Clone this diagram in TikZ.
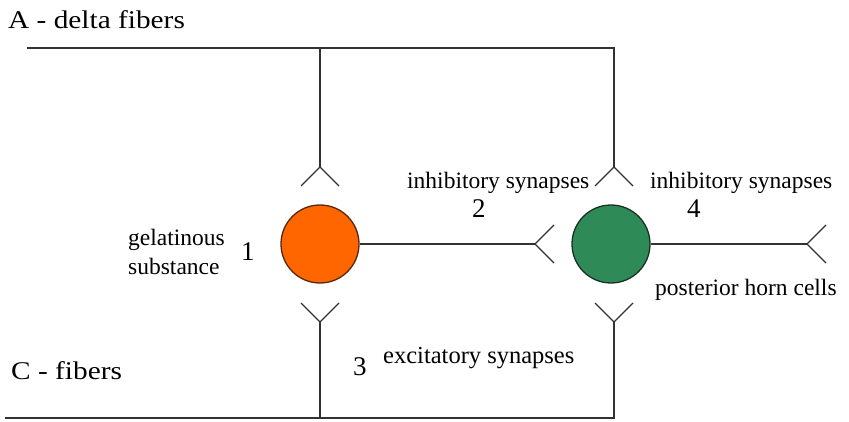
\documentclass[tikz,border=0pt]{standalone}
\usepackage{fontspec}
\setmainfont{Liberation Serif}
\newfontfamily\widefont[FakeStretch=1.15]{Liberation Serif}
\definecolor{wire}{RGB}{50,50,50}
\definecolor{gelfill}{RGB}{255,102,0}
\definecolor{geledge}{RGB}{90,40,10}
\definecolor{hornfill}{RGB}{46,139,87}
\definecolor{hornedge}{RGB}{25,50,35}
\tikzset{
  fiber/.style={draw=wire, line width=1.4pt},
  cellbody/.style={circle, minimum size=78pt, inner sep=0pt, line width=1.3pt},
  biglabel/.style={anchor=base west, inner sep=0pt, font=\widefont\fontsize{25.5}{30}\selectfont},
  smalllabel/.style={anchor=base west, inner sep=0pt, font=\fontsize{23.5}{29}\selectfont},
  numlabel/.style={anchor=base west, inner sep=0pt, font=\fontsize{27}{30}\selectfont},
}
\begin{document}
\begin{tikzpicture}[x=1pt, y=-1pt]
\useasboundingbox (0,0) rectangle (849,422);

% cell bodies
\node[cellbody, fill=gelfill, draw=geledge] (gel) at (320,244) {};
\node[cellbody, fill=hornfill, draw=hornedge] (horn) at (611,244) {};

% fiber corners and synapse tips
\coordinate (atl) at (27,48);
\coordinate (atm) at (320,48);
\coordinate (atr) at (614,48);
\coordinate (ctl) at (5,418);
\coordinate (ctm) at (320,418);
\coordinate (ctr) at (614,418);
\coordinate (s1) at (320,167);
\coordinate (s2) at (614,167);
\coordinate (s3) at (320,322);
\coordinate (s4) at (614,322);
\coordinate (s5) at (535,244);
\coordinate (s6) at (807,244);

% A-delta fibers
\draw[fiber] (atl) -- (atr) -- (s2);
\draw[fiber] (atm) -- (s1);
\draw[fiber] (s1) -- ++(-19,19) (s1) -- ++(19,19);
\draw[fiber] (s2) -- ++(-19,19) (s2) -- ++(19,19);

% C fibers
\draw[fiber] (ctl) -- (ctr) -- (s4);
\draw[fiber] (ctm) -- (s3);
\draw[fiber] (s3) -- ++(-19,-19) (s3) -- ++(19,-19);
\draw[fiber] (s4) -- ++(-19,-19) (s4) -- ++(19,-19);

% axons
\draw[fiber] (gel.east) -- (s5);
\draw[fiber] (s5) -- ++(19,-19) (s5) -- ++(19,19);
\draw[fiber] (horn.east) -- (s6);
\draw[fiber] (s6) -- ++(19,-19) (s6) -- ++(19,19);

% labels
\node[biglabel] (la) at (8,29) {A - delta fibers};
\node[biglabel] (lc) at (11,379) {C - fibers};
\node[smalllabel] (lgel1) at (128,246) {gelatinous};
\node[smalllabel] (lgel2) at (128,275) {substance};
\node[numlabel] (n1) at (241,261) {1};
\node[smalllabel] (lin2) at (407,189) {inhibitory synapses};
\node[numlabel] (n2) at (472,218) {2};
\node[smalllabel] (lin4) at (650,189) {inhibitory synapses};
\node[numlabel] (n4) at (687,218) {4};
\node[smalllabel] (lph) at (655,295) {posterior horn cells};
\node[numlabel] (n3) at (353,375) {3};
\node[smalllabel, font=\fontsize{24.5}{29}\selectfont] (lex) at (383,363) {excitatory synapses};
\end{tikzpicture}
\end{document}
